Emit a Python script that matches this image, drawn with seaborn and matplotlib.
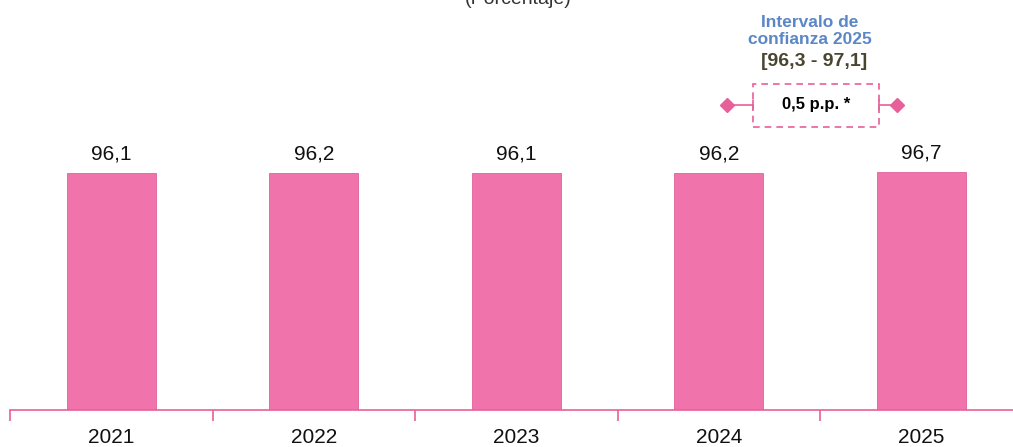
import matplotlib
matplotlib.use("Agg")
import matplotlib.pyplot as plt
import matplotlib.patches as mpatches
import seaborn as sns
import pandas as pd

# Data
years = ["2021", "2022", "2023", "2024", "2025"]
values = [96.1, 96.2, 96.1, 96.2, 96.7]
labels = ["96,1", "96,2", "96,1", "96,2", "96,7"]
ci_title = "Intervalo de\nconfianza 2025"
ci_range = "[96,3 - 97,1]"
diff_text = "0,5 p.p. *"

pink = "#F173AB"
pink_line = "#E8609A"

sns.set_style("white")
plt.rcParams["font.family"] = ["Liberation Sans Narrow", "Liberation Sans", "DejaVu Sans"]

W, H = 1013, 447
fig = plt.figure(figsize=(W / 100, H / 100), dpi=100)
# the axis runs slightly past the right edge, as in the reference
ax = fig.add_axes([10 / W, (H - 410) / H, 1012.5 / W, 410 / H])

df = pd.DataFrame({"year": years, "value": values})
sns.barplot(data=df, x="year", y="value", color=pink, width=0.44,
            edgecolor="#E0619A", linewidth=0.6, saturation=1, ax=ax)

ax.set_xlim(-0.5, 4.5)
ax.set_ylim(0, 410 / 2.466)
for i, (v, lab) in enumerate(zip(values, labels)):
    ax.text(i, v + 5.3, lab, ha="center", va="baseline", fontsize=15, color="#111111")

# spines and ticks
for s in ["top", "right", "left"]:
    ax.spines[s].set_visible(False)
ax.spines["bottom"].set_color(pink_line)
ax.spines["bottom"].set_linewidth(1.2)
ax.set_yticks([])
ax.set_xticks([-0.5, 0.5, 1.5, 2.5, 3.5, 4.5])
ax.set_xticklabels([])
ax.tick_params(axis="x", bottom=True, length=8, color=pink_line, width=1.2, direction="out")
for i, y in enumerate(years):
    ax.text(i, -0.068, y, transform=ax.get_xaxis_transform(), ha="center",
            va="center", fontsize=15, color="#111111")
ax.set_xlabel("")
ax.set_ylabel("")

# title cut at top
fig.text(518 / W, 1.0, "(Porcentaje)", ha="center", va="center", fontsize=14, color="#333333")

# confidence interval annotation (figure pixel coords)
def fx(px):
    return px / W
def fy(py):
    return 1 - py / H

fig.text(fx(810), fy(31), ci_title, ha="center", va="center", fontsize=12.5,
         fontweight="bold", color="#5B87C6", linespacing=1.15)
fig.text(fx(814), fy(61), ci_range, ha="center", va="center", fontsize=14,
         fontweight="bold", color="#4A4530")

box = mpatches.Rectangle((fx(753), fy(127)), fx(879) - fx(753), fy(84) - fy(127),
                         transform=fig.transFigure, fill=False, edgecolor=pink_line,
                         linestyle=(0, (4, 3)), linewidth=1.2)
fig.add_artist(box)
fig.text(fx(816), fy(105), diff_text, ha="center", va="center", fontsize=12,
         fontweight="bold", color="black")

for x0, x1 in [(727, 753), (879, 897)]:
    fig.add_artist(plt.Line2D([fx(x0), fx(x1)], [fy(105), fy(105)],
                              transform=fig.transFigure, color=pink_line, lw=1.2))
for xe in [753, 879]:
    fig.add_artist(plt.Line2D([fx(xe), fx(xe)], [fy(100), fy(110)],
                              transform=fig.transFigure, color=pink_line, lw=1.2))
for xd in [727, 897]:
    fig.add_artist(plt.Line2D([fx(xd)], [fy(105)], transform=fig.transFigure,
                              marker="D", markersize=7, color=pink_line, lw=0))

fig.savefig("out.png", dpi=100)
